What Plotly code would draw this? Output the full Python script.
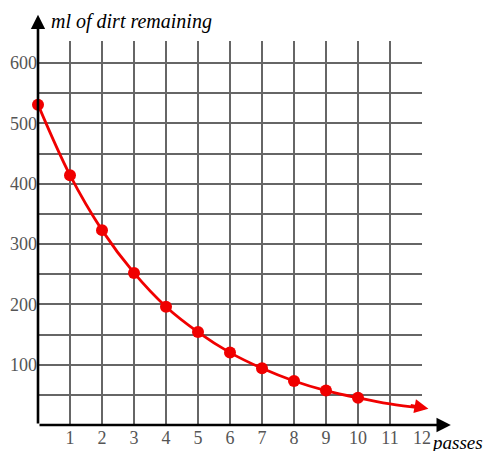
import plotly.graph_objects as go

# Data
passes = [0, 1, 2, 3, 4, 5, 6, 7, 8, 9, 10]
dirt = [531, 414, 323, 252, 196, 154, 120, 94, 73, 57, 45]
# curve continues past the last marked point
curve_x = passes + [11, 12]
curve_y = dirt + [35, 28]

x_ticks = list(range(1, 13))
y_grid = [50, 100, 150, 200, 250, 300, 350, 400, 450, 500, 550, 600]
y_labels = ["", "100", "", "200", "", "300", "", "400", "", "500", "", "600"]

FONT = "Liberation Serif"
RED = "#f00000"
GRID = "#666666"

W, H = 487, 451
# plot area in page pixels: x 38..422, y 41..425
L, T = 38, 41
R = W - 422
B = H - 425

fig = go.Figure()
fig.add_trace(go.Scatter(
    x=curve_x, y=curve_y, mode="lines",
    line=dict(color=RED, width=2.8, shape="spline"),
    hoverinfo="skip", cliponaxis=False,
))
fig.add_trace(go.Scatter(
    x=passes, y=dirt, mode="markers",
    marker=dict(color=RED, size=12),
    cliponaxis=False,
))

def px_x(p):
    return (p - L) / (W - L - R)

def px_y(p):
    return (H - B - p) / (H - T - B)

annotations = [
    # y axis arrow
    dict(x=0, y=680, ax=0, ay=0, xref="x", yref="y", axref="x", ayref="y",
         text="", showarrow=True, arrowhead=2, arrowsize=1.1, arrowwidth=2.6,
         arrowcolor="black"),
    # x axis arrow
    dict(x=12.9, y=0, ax=0, ay=0, xref="x", yref="y", axref="x", ayref="y",
         text="", showarrow=True, arrowhead=2, arrowsize=1.1, arrowwidth=2.6,
         arrowcolor="black"),
    # curve end arrow
    dict(x=12.2, y=27, ax=11.6, ay=33, xref="x", yref="y", axref="x", ayref="y",
         text="", showarrow=True, arrowhead=2, arrowsize=1.0, arrowwidth=2.8,
         arrowcolor=RED),
    dict(x=px_x(50), y=px_y(21), xref="paper", yref="paper",
         text="<i>ml of dirt remaining</i>",
         showarrow=False, xanchor="left", yanchor="middle", borderpad=0,
         font=dict(family=FONT, size=20, color="black")),
    dict(x=px_x(430), y=px_y(442), xref="paper", yref="paper",
         text="<i>passes</i>",
         showarrow=False, xanchor="left", yanchor="middle", borderpad=0,
         font=dict(family=FONT, size=19, color="black")),
]

fig.update_layout(
    width=W, height=H,
    margin=dict(l=L, r=R, t=T, b=B, autoexpand=False),
    paper_bgcolor="white", plot_bgcolor="white",
    showlegend=False,
    annotations=annotations,
    xaxis=dict(
        range=[0, 12.0001], tickvals=x_ticks, ticktext=[str(v) for v in x_ticks],
        showgrid=True, gridcolor=GRID, gridwidth=2.2, zeroline=False,
        showline=False, ticks="", automargin=False,
        tickfont=dict(family=FONT, size=18, color="#555555"),
        fixedrange=True,
    ),
    yaxis=dict(
        range=[0, 636.5], tickvals=y_grid, ticktext=y_labels,
        showgrid=True, gridcolor=GRID, gridwidth=2.2, zeroline=False,
        showline=False, ticks="", ticklabelstandoff=0, automargin=False,
        tickfont=dict(family=FONT, size=18, color="#555555"),
        fixedrange=True,
    ),
)

fig.write_html(
    "out.html",
    config={"displayModeBar": False},
    post_script="document.body.style.margin='0';document.body.style.overflow='hidden';",
)
